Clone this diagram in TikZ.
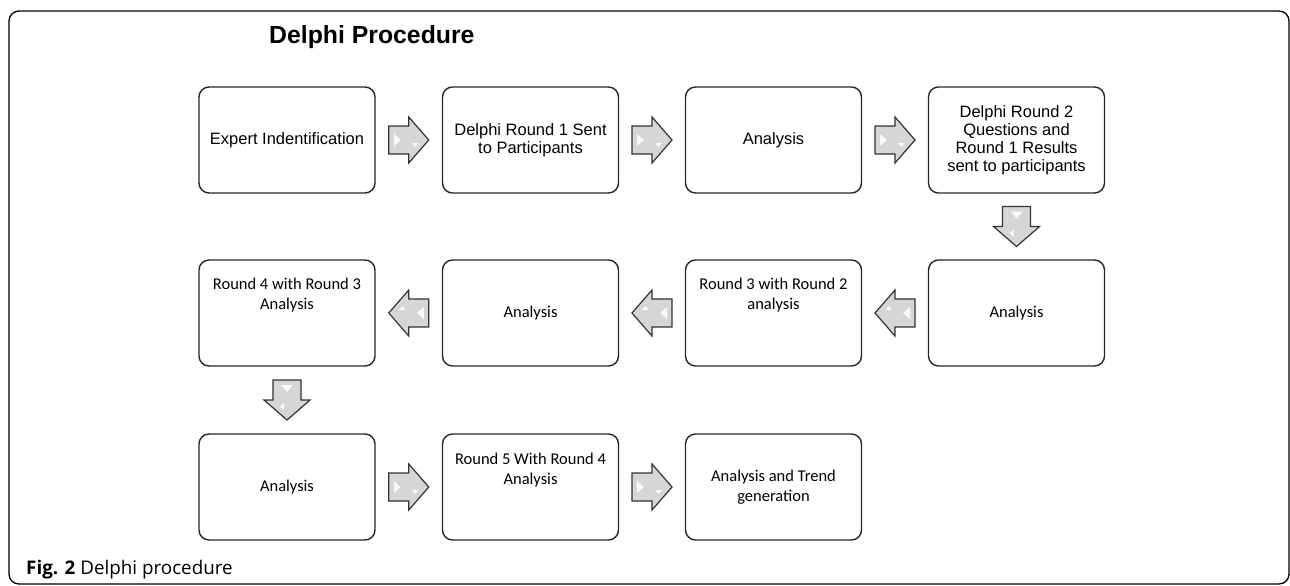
\documentclass[tikz,border=0pt]{standalone}
\usepackage{fontspec}
\setmainfont{Liberation Sans}
\newfontfamily\carl{Carlito}
\newfontfamily\osans{Open Sans}
\usetikzlibrary{calc}
\begin{document}
\begin{tikzpicture}[x=1pt,y=-1pt,
  box/.style={draw=black!85, line width=1.4pt, rounded corners=10pt,
    minimum width=176pt, minimum height=106pt, inner sep=0pt},
  txa/.style={font=\fontsize{16.5}{18}\selectfont, align=center, inner sep=0pt},
  txc/.style={font=\carl\fontsize{16.5}{20}\selectfont, align=center, inner sep=0pt},
  blockarrow/.pic={
    \filldraw[fill=gray!32, draw=black!80, line width=1.2pt, line join=miter]
      (-20,-14) -- (0,-14) -- (0,-23) -- (20,0) -- (0,23) -- (0,14) -- (-20,14) -- cycle;
    \fill[white, opacity=0.85] (-15,-6) -- (-15,6) -- (-8,0) -- cycle;
    \fill[white, opacity=0.85] (3,3) -- (10,3) -- (6.5,7) -- cycle;
  }]
\useasboundingbox (0,0) rectangle (1290,586);
% outer frame
\draw[line width=1.3pt, rounded corners=10pt] (9,11) rectangle (1289,584);
% title and caption
\node[anchor=base west, inner sep=0pt, font=\bfseries\fontsize{24.8}{28}\selectfont] (title) at (269,44) {Delphi Procedure};
\node[anchor=base west, inner sep=0pt, font=\osans\fontsize{18.8}{22}\selectfont] (caption) at (26,574) {\textbf{Fig. 2} Delphi procedure};
% row 1
\node[box, txa] (r1a) at (287,140) {Expert Indentification};
\node[box, txa] (r1b) at (530.5,140) {Delphi Round 1 Sent\\to Participants};
\node[box, txa] (r1c) at (773.5,140) {Analysis};
\node[box, txa] (r1d) at (1016.5,140) {Delphi Round 2\\Questions and\\Round 1 Results\\sent to participants};
% row 2
\node[box] (r2d) at (1016.5,313) {};
\node[box] (r2c) at (773.5,313) {};
\node[box] (r2b) at (530.5,313) {};
\node[box] (r2a) at (287,313) {};
\node[txc] (t2d) at (r2d.center) {Analysis};
\node[txc] (t2c) at ($(r2c.center)+(0,-17.5)$) {Round 3 with Round 2\\analysis};
\node[txc] (t2b) at (r2b.center) {Analysis};
\node[txc] (t2a) at ($(r2a.center)+(0,-17.5)$) {Round 4 with Round 3\\Analysis};
% row 3
\node[box] (r3a) at (287,487) {};
\node[box] (r3b) at (530.5,487) {};
\node[box] (r3c) at (773.5,487) {};
\node[txc] (t3a) at (r3a.center) {Analysis};
\node[txc] (t3b) at ($(r3b.center)+(0,-17)$) {Round 5 With Round 4\\Analysis};
\node[txc] (t3c) at (r3c.center) {Analysis and Trend\\generation};
% arrows
\pic at ($(r1a.east)!0.5!(r1b.west)$) {blockarrow};
\pic at ($(r1b.east)!0.5!(r1c.west)$) {blockarrow};
\pic at ($(r1c.east)!0.5!(r1d.west)$) {blockarrow};
\pic[rotate=-90] at ($(r1d.south)!0.5!(r2d.north)$) {blockarrow};
\pic[rotate=180] at ($(r2d.west)!0.5!(r2c.east)$) {blockarrow};
\pic[rotate=180] at ($(r2c.west)!0.5!(r2b.east)$) {blockarrow};
\pic[rotate=180] at ($(r2b.west)!0.5!(r2a.east)$) {blockarrow};
\pic[rotate=-90] at ($(r2a.south)!0.5!(r3a.north)$) {blockarrow};
\pic at ($(r3a.east)!0.5!(r3b.west)$) {blockarrow};
\pic at ($(r3b.east)!0.5!(r3c.west)$) {blockarrow};
\end{tikzpicture}
\end{document}
